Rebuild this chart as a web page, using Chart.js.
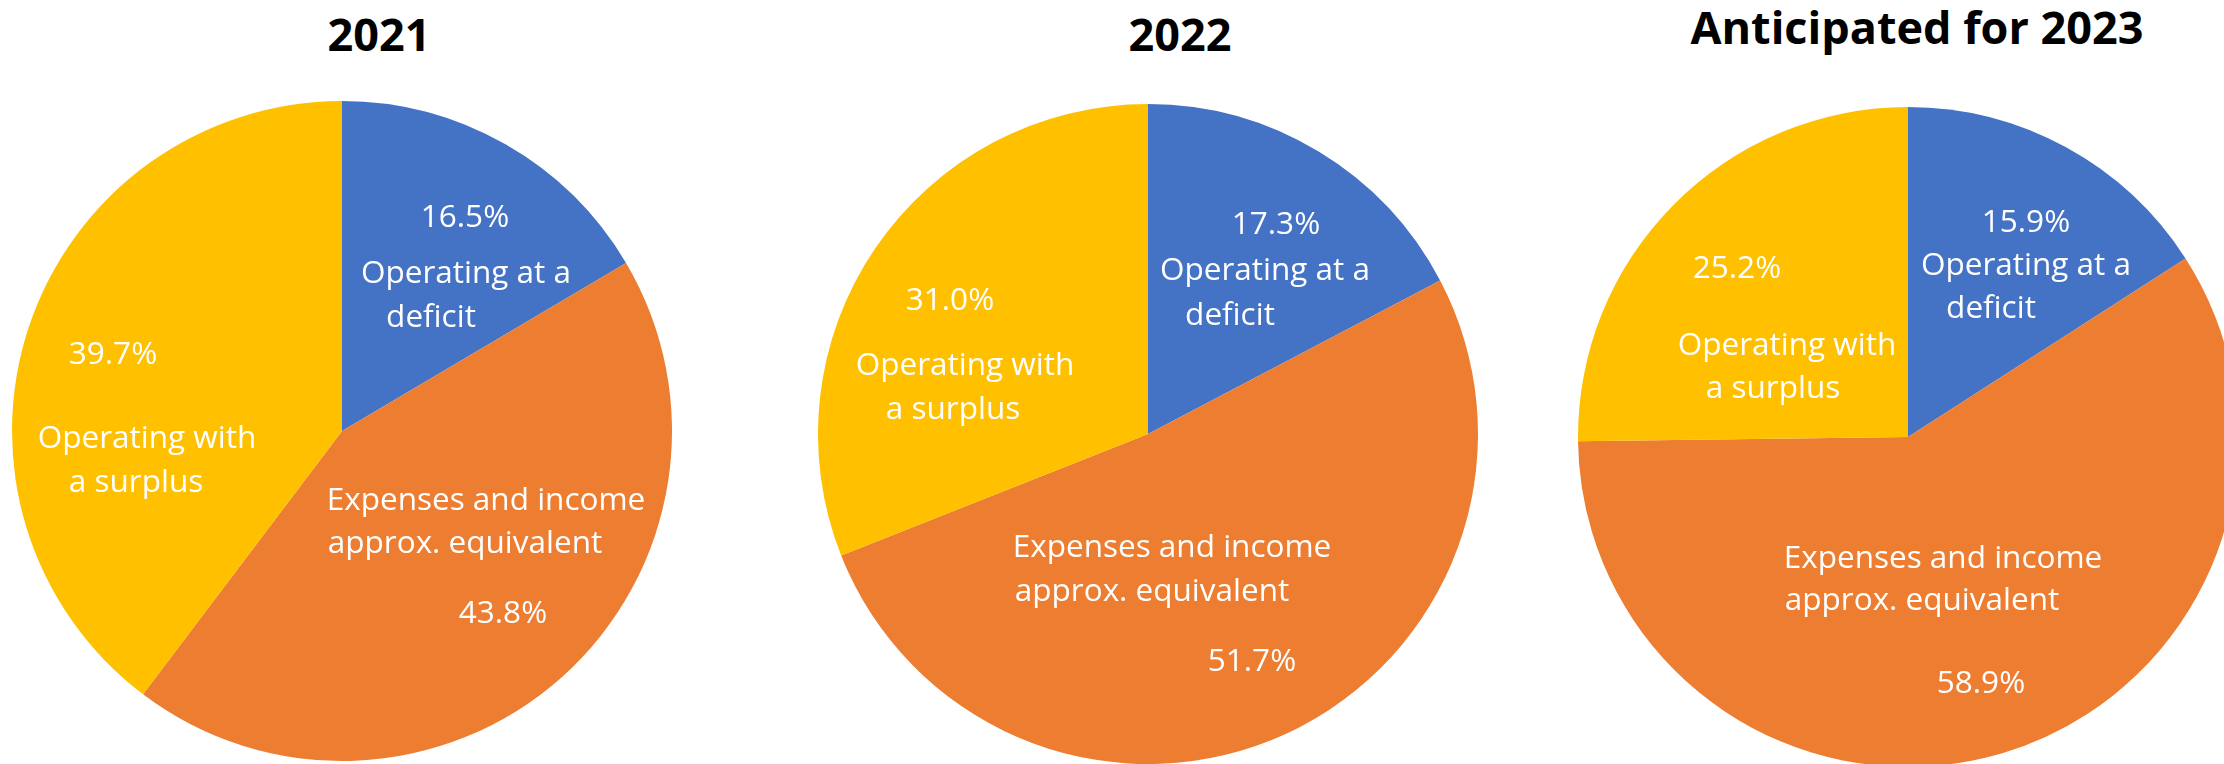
<!DOCTYPE html>
<html>
<head>
<meta charset="utf-8">
<script src="https://cdn.jsdelivr.net/npm/chart.js@4/dist/chart.umd.min.js"></script>
<style>
  html, body { margin: 0; padding: 0; background: #ffffff; }
  body { position: relative; width: 2224px; height: 764px; overflow: hidden; }
  .title {
    position: absolute; top: 0; width: 700px; margin-left: -350px;
    font-family: "Open Sans", sans-serif; font-weight: 700; font-size: 45px;
    color: #000000; text-align: center; line-height: 1; white-space: nowrap;
  }
  canvas { position: absolute; }
</style>
</head>
<body>
<div class="title" id="t0"></div>
<div class="title" id="t1"></div>
<div class="title" id="t2"></div>
<canvas id="pie0" width="660" height="660"></canvas>
<canvas id="pie1" width="660" height="660"></canvas>
<canvas id="pie2" width="660" height="660"></canvas>
<script>
// Survey categories, in clockwise order from twelve o'clock
const categories = [
  'Operating at a deficit',
  'Expenses and income approx. equivalent',
  'Operating with a surplus'
];
// Wrapped form of each category as it appears inside its slice
const categoryLines = [
  ['Operating at a', 'deficit'],
  ['Expenses and income', 'approx. equivalent'],
  ['Operating with', 'a surplus']
];
const periods = ['2021', '2022', 'Anticipated for 2023'];

// Share of respondents (%) per category
const values2021 = [16.5, 43.8, 39.7];
const values2022 = [17.3, 51.7, 31.0];
const values2023 = [15.9, 58.9, 25.2];
const seriesValues = [values2021, values2022, values2023];

const sliceColors = ['#4472C4', '#ED7D31', '#FFC000'];

// Layout: pie centres / radius, title anchors, label offsets from the pie centre
const RADIUS = 330;
const pieCentres = [[342, 431], [1148, 434], [1908, 437]];
const titleAnchors = [[379, 50], [1180, 50], [1917, 43]]; // centre x, baseline y
const labelPlacement = [
  { // 2021
    pct:   [[123, -215], [161, 181], [-229, -78]],
    lines: [[[124, -159], [89, -115]], [[144, 68], [123, 111]], [[-195, 6], [-206, 50]]]
  },
  { // 2022
    pct:   [[128, -211], [104, 226], [-198, -135]],
    lines: [[[117, -165], [82, -120]], [[24, 112], [4, 156]], [[-183, -70], [-195, -26]]]
  },
  { // 2023
    pct:   [[118, -216], [73, 245], [-171, -170]],
    lines: [[[118, -173], [83, -130]], [[35, 120], [14, 162]], [[-121, -93], [-135, -50]]]
  }
];

const LABEL_FONT_SIZE = 31.5;
const LABEL_FONT = LABEL_FONT_SIZE + 'px "Open Sans", sans-serif';

// Draws the percentage and the category name inside each slice
const sliceLabels = {
  id: 'sliceLabels',
  afterDatasetsDraw(chart, args, opts) {
    const ctx = chart.ctx;
    const meta = chart.getDatasetMeta(0);
    const values = chart.data.datasets[0].data;
    const place = opts.place;
    const lift = LABEL_FONT_SIZE * 0.36;
    ctx.save();
    ctx.fillStyle = '#ffffff';
    ctx.font = LABEL_FONT;
    ctx.textAlign = 'center';
    ctx.textBaseline = 'alphabetic';
    meta.data.forEach((arc, i) => {
      const cx = arc.x, cy = arc.y;
      const p = place.pct[i];
      ctx.fillText(values[i].toFixed(1) + '%', cx + p[0], cy + p[1] + lift);
      categoryLines[i].forEach((line, k) => {
        const o = place.lines[i][k];
        ctx.fillText(line, cx + o[0], cy + o[1] + lift);
      });
    });
    ctx.restore();
  }
};

function build() {
  periods.forEach((period, idx) => {
    const t = document.getElementById('t' + idx);
    t.textContent = period;
    t.style.left = titleAnchors[idx][0] + 'px';
    // put the text baseline at the anchor's y
    t.style.top = (titleAnchors[idx][1] - 45 * 0.86) + 'px';

    const cv = document.getElementById('pie' + idx);
    cv.style.left = (pieCentres[idx][0] - RADIUS) + 'px';
    cv.style.top = (pieCentres[idx][1] - RADIUS) + 'px';

    new Chart(cv, {
      type: 'pie',
      data: {
        labels: categories,
        datasets: [{
          data: seriesValues[idx],
          backgroundColor: sliceColors,
          borderWidth: 0,
          hoverBorderWidth: 0,
          hoverOffset: 0
        }]
      },
      options: {
        responsive: false,
        animation: false,
        devicePixelRatio: 1,
        events: [],
        layout: { padding: 0 },
        plugins: {
          legend: { display: false },
          tooltip: { enabled: false },
          title: { display: false },
          sliceLabels: { place: labelPlacement[idx] }
        }
      },
      plugins: [sliceLabels]
    });
  });
}

if (document.fonts && document.fonts.load) {
  Promise.all([
    document.fonts.load(LABEL_FONT),
    document.fonts.load('700 45px "Open Sans"')
  ]).then(build, build);
} else {
  build();
}
</script>
</body>
</html>
